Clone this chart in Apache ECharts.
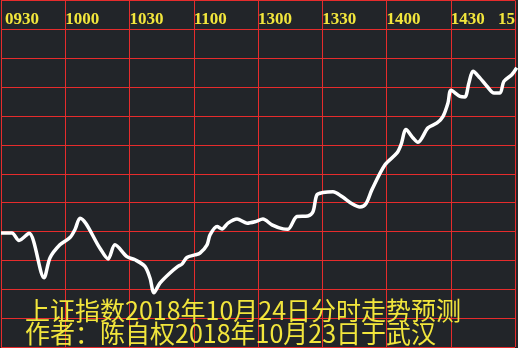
<!DOCTYPE html>
<html>
<head>
<meta charset="utf-8">
<script src="https://cdn.jsdelivr.net/npm/echarts@6/dist/echarts.min.js"></script>
<style>
html,body{margin:0;padding:0;background:#222529;}
#c{width:518px;height:348px;}
</style>
</head>
<body>
<div id="c"></div>
<script>
// Tick labels for the time axis (every 30 trading minutes)
var tickLabels = ['0930','1000','1030','1100','1300','1330','1400','1430','1500'];
// Trading minutes since 09:30 (lunch break removed)
var minutes = [0, 5.1, 8.4, 13.1, 20.1, 22.9, 27.5, 32.2, 34.6, 36.9, 46.2, 50.0, 53.2, 58.8,
  62.6, 67.2, 69.6, 71.4, 74.2, 78.9, 82.6, 84.5, 86.8, 90.6, 92.9, 96.2, 97.6, 100.9,
  103.2, 106.0, 110.2, 114.9, 118.6, 122.3, 126.5, 131.7, 134.0, 138.2, 143.3, 145.7,
  147.5, 150.3, 155.0, 159.2, 163.9, 167.6, 170.4, 173.2, 179.3, 184.9, 186.8, 189.1,
  192.4, 194.7, 199.4, 203.6, 206.4, 208.7, 210.1, 214.3, 216.6, 218.5, 220.4, 223.6,
  226.9, 230.2, 233.0, 234.8, 238.5, 240.8];
// Forecast index level (in grid units; no value labels in the original)
var values = [3.95, 3.95, 3.69, 3.94, 2.40, 3.09, 3.54, 3.79, 4.08, 4.46, 3.42, 3.05, 3.54, 3.13,
  3.02, 2.79, 2.38, 1.88, 2.21, 2.56, 2.79, 2.87, 3.10, 3.19, 3.25, 3.54, 3.88, 4.17,
  4.09, 4.29, 4.43, 4.29, 4.34, 4.43, 4.23, 4.09, 4.08, 4.52, 4.54, 4.69,
  5.27, 5.35, 5.38, 5.21, 4.96, 4.85, 4.96, 5.45, 6.31, 6.72, 7.01, 7.53,
  7.24, 7.09, 7.59, 7.76, 7.99, 8.45, 8.89, 8.68, 8.66, 9.15, 9.55, 9.32,
  9.03, 8.80, 8.80, 9.20, 9.43, 9.67];
var titleLine1 = '上证指数2018年10月24日分时走势预测';
var titleLine2 = '作者：陈自权2018年10月23日于武汉';

var seriesData = minutes.map(function (m, i) { return [m, values[i]]; });
var red = '#e62c2c';
var yellow = '#f2e63c';
var lastTick = tickLabels.length - 1;

function timeAxis(showIdx, labelExtra, withSplit) {
  var label = {
    inside: true, align: 'left', showMinLabel: true, showMaxLabel: true, hideOverlap: false,
    margin: 11, color: yellow, fontSize: 17, fontWeight: 'bold', fontFamily: 'Liberation Serif',
    formatter: function (v) {
      var i = Math.round(v / 30);
      return showIdx(i) ? tickLabels[i] : '';
    }
  };
  for (var k in labelExtra) label[k] = labelExtra[k];
  return {
    type: 'value', position: 'top', min: 0, max: 240, interval: 30,
    axisLine: {show: false}, axisTick: {show: false},
    splitLine: {show: withSplit, lineStyle: {color: red, width: 1}},
    axisLabel: label
  };
}

var chart = echarts.init(document.getElementById('c'), null, {renderer: 'canvas'});
chart.setOption({
  backgroundColor: '#222529',
  animation: false,
  title: [
    {text: titleLine1, left: 25, top: 298, padding: 0,
     textStyle: {color: yellow, fontSize: 25, fontWeight: 'normal', fontFamily: 'Noto Sans CJK SC'}},
    {text: titleLine2, left: 25, top: 321, padding: 0,
     textStyle: {color: yellow, fontSize: 25, fontWeight: 'normal', fontFamily: 'Noto Sans CJK SC'}}
  ],
  grid: {left: 1, right: 3, top: 0.5, bottom: 1, containLabel: false, outerBoundsMode: 'none'},
  xAxis: [
    timeAxis(function (i) { return i > 0 && i < lastTick; }, {}, true),
    timeAxis(function (i) { return i === 0; }, {padding: [0, 0, 0, 4]}, false),
    timeAxis(function (i) { return i === lastTick; },
      {align: 'right', width: 18, overflow: 'truncate', ellipsis: ''}, false)
  ],
  yAxis: {
    type: 'value', min: 0, max: 12, interval: 1,
    axisLine: {show: false}, axisTick: {show: false}, axisLabel: {show: false},
    splitLine: {show: true, lineStyle: {color: red, width: 1}}
  },
  series: [{
    type: 'line', data: seriesData, showSymbol: false, smooth: 0.3, clip: false,
    lineStyle: {color: '#ffffff', width: 3.5}
  }]
});
</script>
</body>
</html>
